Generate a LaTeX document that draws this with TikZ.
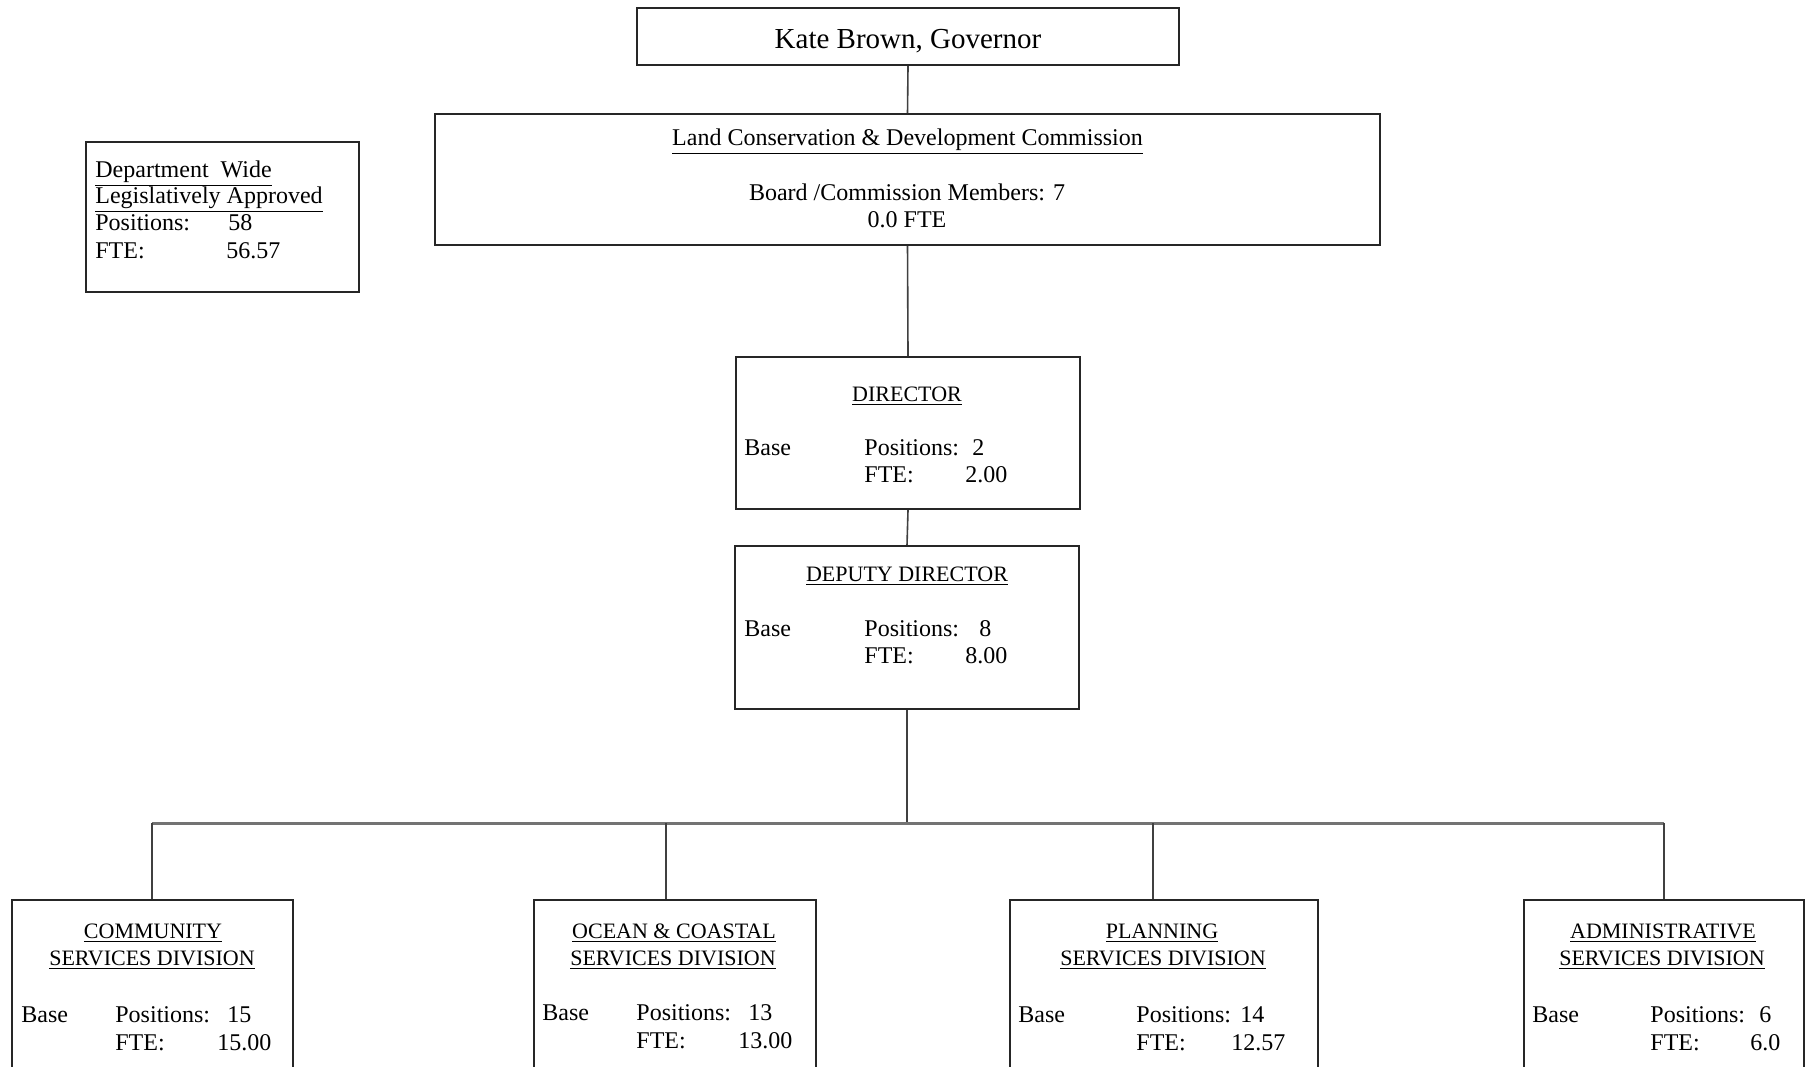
\documentclass[tikz,border=0pt]{standalone}
\usepackage{fontspec}
\setmainfont{Liberation Serif}
\begin{document}
\begin{tikzpicture}[x=0.5pt,y=-0.5pt,
  box/.style={draw=black!85,line width=1pt,rectangle,inner sep=0pt,fill=none},
  link/.style={draw=black!75,line width=0.8pt},
  bus/.style={draw=black!55,line width=1.5pt},
  txt/.style={inner sep=0pt,font=\fontsize{12}{14}\selectfont},
  ttl/.style={inner sep=0pt,font=\fontsize{11}{13}\selectfont},
  lt/.style={txt,anchor=base west},
  ct/.style={txt,anchor=base},
  cttl/.style={ttl,anchor=base}]
\clip (0,0) rectangle (1807,1066);
\fill[white] (0,0) rectangle (1807,1066);

% boxes
\node[box,minimum width=271pt,minimum height=28.5pt] (gov) at (908,36.5) {};
\node[box,minimum width=472.5pt,minimum height=65.5pt] (comm) at (907.5,179.5) {};
\node[box,minimum width=136.5pt,minimum height=75pt] (dept) at (222.5,217) {};
\node[box,minimum width=172pt,minimum height=76pt] (dir) at (908,433) {};
\node[box,minimum width=172pt,minimum height=81.5pt] (dep) at (907,627.5) {};
\node[box,minimum width=140.5pt,minimum height=100pt] (cs) at (152.5,1000) {};
\node[box,minimum width=141pt,minimum height=100pt] (oc) at (675,1000) {};
\node[box,minimum width=154pt,minimum height=100pt] (pl) at (1164,1000) {};
\node[box,minimum width=140pt,minimum height=100pt] (ad) at (1664,1000) {};

% connectors
\draw[link] (gov.south) -- (comm.north);
\draw[link] (comm.south) -- (dir.north);
\draw[link] (dir.south) -- (dep.north);
\coordinate (d1) at (152,823);
\coordinate (d2) at (666,823);
\coordinate (d3) at (1153,823);
\coordinate (d4) at (1664,823);
\draw[link] (dep.south) -- (dep.south |- d1);
\draw[bus] (d1) -- (d4);
\draw[link] (d1) -- (d1 |- cs.north);
\draw[link] (d2) -- (d2 |- oc.north);
\draw[link] (d3) -- (d3 |- pl.north);
\draw[link] (d4) -- (d4 |- ad.north);

% governor
\node[inner sep=0pt,anchor=base,font=\fontsize{14.5}{16}\selectfont] (govt) at (908,48) {Kate Brown, Governor};

% commission
\node[ct] (commt) at (907.5,145) {\underline{Land Conservation \& Development Commission}};
\node[ct] (comm2) at (907,200.5) {Board /Commission Members: 7};
\node[ct] (comm3) at (907,227) {0.0 FTE};

% department wide
\node[lt] (dw1) at (95,177) {\underline{Department\ \ Wide}};
\node[lt] (dw2) at (95,203) {\underline{Legislatively Approved}};
\node[lt] (dw3) at (95,230) {Positions:};
\node[lt] (dw3n) at (228,230) {58};
\node[lt] (dw4) at (95,258) {FTE:};
\node[lt] (dw4n) at (226,258) {56.57};

% director
\node[cttl] (dirt) at (907,401) {\underline{DIRECTOR}};
\node[lt] (dirb) at (744,455) {Base};
\node[lt] (dirp) at (864,455) {Positions:};
\node[lt] (dirpn) at (972,455) {2};
\node[lt] (dirf) at (864,482) {FTE:};
\node[lt] (dirfn) at (965,482) {2.00};

% deputy
\node[cttl] (dept) at (907,581) {\underline{DEPUTY DIRECTOR}};
\node[lt] (depb) at (744,636) {Base};
\node[lt] (depp) at (864,636) {Positions:};
\node[lt] (deppn) at (979,636) {8};
\node[lt] (depf) at (864,663) {FTE:};
\node[lt] (depfn) at (965,663) {8.00};

% community
\node[cttl] (cst1) at (153,938) {\underline{COMMUNITY}};
\node[cttl] (cst2) at (152,965) {\underline{SERVICES DIVISION}};
\node[lt] (csb) at (21,1022) {Base};
\node[lt] (csp) at (115,1022) {Positions:};
\node[lt] (cspn) at (227,1022) {15};
\node[lt] (csf) at (115,1050) {FTE:};
\node[lt] (csfn) at (217,1050) {15.00};

% ocean
\node[cttl] (oct1) at (674,938) {\underline{OCEAN \& COASTAL}};
\node[cttl] (oct2) at (673,965) {\underline{SERVICES DIVISION}};
\node[lt] (ocb) at (542,1020) {Base};
\node[lt] (ocp) at (636,1020) {Positions:};
\node[lt] (ocpn) at (748,1020) {13};
\node[lt] (ocf) at (636,1048) {FTE:};
\node[lt] (ocfn) at (738,1048) {13.00};

% planning
\node[cttl] (plt1) at (1162,938) {\underline{PLANNING}};
\node[cttl] (plt2) at (1163,965) {\underline{SERVICES DIVISION}};
\node[lt] (plb) at (1018,1022) {Base};
\node[lt] (plp) at (1136,1022) {Positions:};
\node[lt] (plpn) at (1240,1022) {14};
\node[lt] (plf) at (1136,1050) {FTE:};
\node[lt] (plfn) at (1231,1050) {12.57};

% administrative
\node[cttl] (adt1) at (1663,938) {\underline{ADMINISTRATIVE}};
\node[cttl] (adt2) at (1662,965) {\underline{SERVICES DIVISION}};
\node[lt] (adb) at (1532,1022) {Base};
\node[lt] (adp) at (1650,1022) {Positions:};
\node[lt] (adpn) at (1759,1022) {6};
\node[lt] (adf) at (1650,1050) {FTE:};
\node[lt] (adfn) at (1750,1050) {6.0};
\end{tikzpicture}
\end{document}
